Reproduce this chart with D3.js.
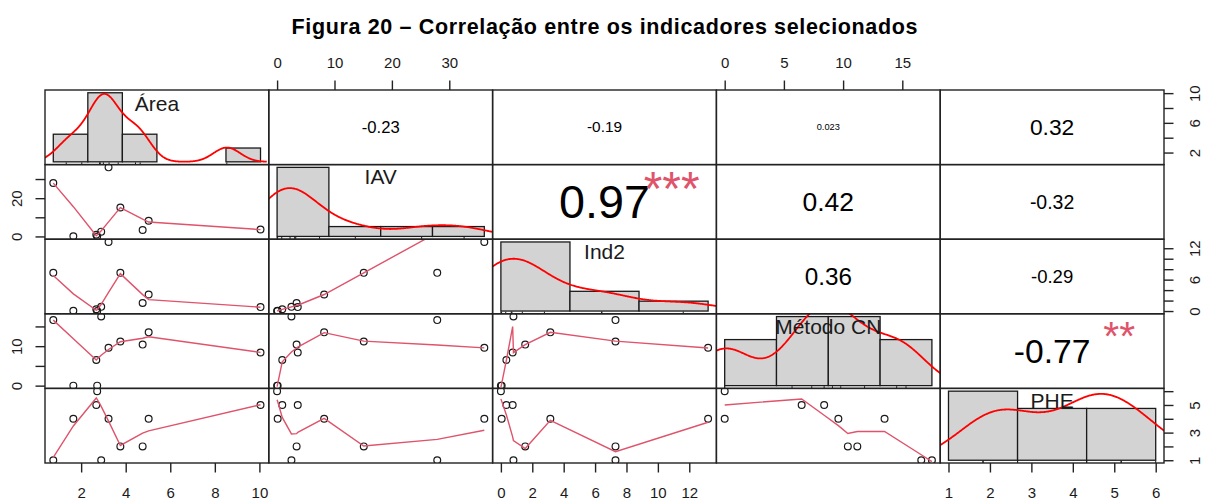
<!DOCTYPE html>
<html><head><meta charset="utf-8">
<script src="https://cdn.jsdelivr.net/npm/d3@7/dist/d3.min.js"></script>
<style>html,body{margin:0;padding:0;background:#fff;} svg{display:block;}</style>
</head><body>
<svg id="chart" width="1209" height="502"></svg>
<script>
// ---------------- data ----------------
const varNames = ["Área", "IAV", "Ind2", "Método CN", "PHE"];
const area     = [0.75, 1.65, 2.68, 2.72, 2.90, 3.23, 3.76, 4.76, 5.03, 10.05];
const iav      = [27.9, 0.1, 0.9, 0.0, 2.5, 36.1, 15.1, 3.4, 8.2, 3.6];
const ind2     = [7.3, 0.05, 0.35, 0.0, 0.8, 13.2, 7.3, 1.55, 3.15, 0.75];
const metodoCN = [16.6, 0.0, 6.5, 0.0, 17.5, 9.6, 11.2, 10.4, 13.5, 8.4];
const phe      = [1, 4, 5, 6, 1, 4, 2, 2, 4, 5];

const areaTicks = [2, 4, 6, 8, 10];
const iavTicks  = [0, 10, 20, 30];
const ind2Ticks = [0, 2, 4, 6, 8, 10, 12];
const cnTicks   = [0, 5, 10, 15];
const pheTicks  = [1, 2, 3, 4, 5, 6];

const areaSideLabels = [2, 6, 10];
const iavSideLabels  = [0, 20];
const ind2SideLabels = [0, 6, 12];
const cnSideLabels   = [0, 10];
const pheSideLabels  = [1, 3, 5];

const areaBreaks = [0, 2, 4, 6, 8, 10, 12];
const iavBreaks  = [0, 10, 20, 30, 40];
const ind2Breaks = [0, 5, 10, 15];
const cnBreaks   = [0, 5, 10, 15, 20];
const pheBreaks  = [0, 2, 4, 6];

const corrPairs  = [[0,1],[0,2],[0,3],[0,4],[1,2],[1,3],[1,4],[2,3],[2,4],[3,4]];
const corrValues = [-0.23, -0.19, 0.023, 0.32, 0.97, 0.42, -0.32, 0.36, -0.29, -0.77];
const corrLabels = ["-0.23", "-0.19", "0.023", "0.32", "0.97", "0.42", "-0.32", "0.36", "-0.29", "-0.77"];
const corrStars  = ["", "", "", "", "***", "", "", "", "", "**"];

const titleText = "Figura 20 – Correlação entre os indicadores selecionados";

// ---------------- setup ----------------
const vars = [area, iav, ind2, metodoCN, phe];
const ticksArr = [areaTicks, iavTicks, ind2Ticks, cnTicks, pheTicks];
const sideLabelsArr = [areaSideLabels, iavSideLabels, ind2SideLabels, cnSideLabels, pheSideLabels];
const breaksArr = [areaBreaks, iavBreaks, ind2Breaks, cnBreaks, pheBreaks];

const L = 45, T = 90, R = 1164, B = 463;
const nv = 5, pw = (R - L) / nv, ph = (B - T) / nv;
const FONT = '"Liberation Sans", Arial, sans-serif';
const INK = "#1a1a1a";
const SMOOTH = "#DF536B";

const svg = d3.select("#chart");
const ctx = document.createElement("canvas").getContext("2d");
function measure(txt, fs, weight) {
  ctx.font = `${weight || "normal"} ${fs}px "Liberation Sans"`;
  return ctx.measureText(txt);
}
function centeredText(g, txt, cx, cy, fs, fill) {
  const m = measure(txt, fs);
  const base = cy + (m.actualBoundingBoxAscent - m.actualBoundingBoxDescent) / 2;
  return g.append("text").attr("x", cx).attr("y", base)
    .attr("text-anchor", "middle").attr("font-family", FONT)
    .attr("font-size", fs).attr("fill", fill).text(txt);
}
function padScale(mn, mx, r0, r1) {
  const p = 0.04 * (mx - mn);
  return d3.scaleLinear().domain([mn - p, mx + p]).range([r0, r1]);
}
const xS = vars.map((v, j) => { const e = d3.extent(v); return padScale(e[0], e[1], L + j * pw, L + (j + 1) * pw); });
const yS = vars.map((v, i) => { const e = d3.extent(v); return padScale(e[0], e[1], T + (i + 1) * ph, T + i * ph); });

const defs = svg.append("defs");
for (let i = 0; i < nv; i++) for (let j = 0; j < nv; j++) {
  defs.append("clipPath").attr("id", `clip${i}${j}`).append("rect")
    .attr("x", L + j * pw).attr("y", T + i * ph).attr("width", pw).attr("height", ph);
}

// ---------------- stats helpers (same as R) ----------------
function q7(s, p) { const h = (s.length - 1) * p, lo = Math.floor(h); return s[lo] + (h - lo) * (s[Math.min(lo + 1, s.length - 1)] - s[lo]); }
function bwNrd0(x) {
  const s = x.slice().sort((a, b) => a - b);
  const sd = d3.deviation(x);
  let lo = Math.min(sd, (q7(s, .75) - q7(s, .25)) / 1.34);
  if (!(lo > 0)) lo = sd || Math.abs(s[0]) || 1;
  return 0.9 * lo * Math.pow(x.length, -0.2);
}
function kde(x) {
  const bw = bwNrd0(x), e = d3.extent(x), from = e[0] - 3 * bw, to = e[1] + 3 * bw, n = 512;
  return d3.range(n).map(k => {
    const t = from + (to - from) * k / (n - 1);
    let s = 0; for (const v of x) { const z = (t - v) / bw; s += Math.exp(-0.5 * z * z); }
    return [t, s / (x.length * bw * Math.sqrt(2 * Math.PI))];
  });
}
function lowest(x, y, n, xs, nleft, nright, w, userw, rw) {
  const range = x[n - 1] - x[0];
  const h = Math.max(xs - x[nleft], x[nright] - xs), h9 = .999 * h, h1 = .001 * h;
  let a = 0, j = nleft;
  while (j < n) {
    w[j] = 0;
    const r = Math.abs(x[j] - xs);
    if (r <= h9) {
      w[j] = r <= h1 ? 1 : Math.pow(1 - Math.pow(r / h, 3), 3);
      if (userw) w[j] *= rw[j];
      a += w[j];
    } else if (x[j] > xs) break;
    j++;
  }
  const nrt = j - 1;
  if (a <= 0) return { ok: false };
  for (j = nleft; j <= nrt; j++) w[j] /= a;
  if (h > 0) {
    a = 0; for (j = nleft; j <= nrt; j++) a += w[j] * x[j];
    let b = xs - a, c = 0;
    for (j = nleft; j <= nrt; j++) c += w[j] * (x[j] - a) * (x[j] - a);
    if (Math.sqrt(c) > .001 * range) { b /= c; for (j = nleft; j <= nrt; j++) w[j] *= (b * (x[j] - a) + 1); }
  }
  let ys = 0; for (j = nleft; j <= nrt; j++) ys += w[j] * y[j];
  return { ok: true, ys };
}
function lowess(xIn, yIn, f = 2 / 3, nsteps = 3) {
  const n = xIn.length;
  const idx = d3.range(n).sort((a, b) => (xIn[a] - xIn[b]) || (a - b));
  const x = idx.map(i => xIn[i]), y = idx.map(i => yIn[i]);
  const delta = 0.01 * (x[n - 1] - x[0]);
  const ys = new Array(n).fill(0), rw = new Array(n).fill(0), res = new Array(n).fill(0);
  const ns = Math.max(2, Math.min(n, Math.floor(f * n + 1e-7)));
  let iter = 1;
  while (iter <= nsteps + 1) {
    let nleft = 0, nright = ns - 1, last = -1, i = 0;
    for (;;) {
      if (nright < n - 1) {
        const d1 = x[i] - x[nleft], d2 = x[nright + 1] - x[i];
        if (d1 > d2) { nleft++; nright++; continue; }
      }
      const r = lowest(x, y, n, x[i], nleft, nright, res, iter > 1, rw);
      ys[i] = r.ok ? r.ys : y[i];
      if (last < i - 1) {
        const denom = x[i] - x[last];
        for (let j = last + 1; j < i; j++) { const al = (x[j] - x[last]) / denom; ys[j] = al * ys[i] + (1 - al) * ys[last]; }
      }
      last = i;
      const cut = x[last] + delta;
      for (i = last + 1; i < n; i++) {
        if (x[i] > cut) break;
        if (x[i] === x[last]) { ys[i] = ys[last]; last = i; }
      }
      i = Math.max(last + 1, i - 1);
      if (last >= n - 1) break;
    }
    for (let k = 0; k < n; k++) res[k] = y[k] - ys[k];
    let sc = 0; for (let k = 0; k < n; k++) sc += Math.abs(res[k]); sc /= n;
    if (iter > nsteps) break;
    for (let k = 0; k < n; k++) rw[k] = Math.abs(res[k]);
    const s = rw.slice().sort((a, b) => a - b);
    const m1 = Math.floor(n / 2);
    const cmad = (n % 2 === 0) ? 3 * (s[m1] + s[n - m1 - 1]) : 6 * s[m1];
    if (cmad < 1e-7 * sc) break;
    const c9 = .999 * cmad, c1 = .001 * cmad;
    for (let k = 0; k < n; k++) {
      const r = Math.abs(res[k]);
      rw[k] = r <= c1 ? 1 : (r <= c9 ? Math.pow(1 - Math.pow(r / cmad, 2), 2) : 0);
    }
    iter++;
  }
  return x.map((xv, k) => [xv, ys[k]]);
}

// ---------------- panels ----------------
const panels = svg.append("g");

function histPanel(i) {
  const v = vars[i], br = breaksArr[i], n = v.length;
  const bins = br.slice(0, -1).map((b, k) => {
    const c = v.filter(x => (k === 0 ? x >= b : x > b) && x <= br[k + 1]).length;
    return { x0: b, x1: br[k + 1], d: c / (n * (br[k + 1] - b)) };
  });
  const x0 = L + i * pw, y0 = T + i * ph;
  const hx = padScale(br[0], br[br.length - 1], x0, x0 + pw);
  const hy = padScale(0, d3.max(bins, b => b.d), y0 + ph, y0);
  const g = panels.append("g").attr("clip-path", `url(#clip${i}${i})`);
  g.selectAll("rect.bar").data(bins).join("rect").attr("class", "bar")
    .attr("x", b => hx(b.x0)).attr("width", b => hx(b.x1) - hx(b.x0))
    .attr("y", b => hy(b.d)).attr("height", b => hy(0) - hy(b.d))
    .attr("fill", "#D3D3D3").attr("stroke", INK).attr("stroke-width", 1.3);
  g.append("path").datum(kde(v))
    .attr("d", d3.line().x(d => hx(d[0])).y(d => hy(d[1])))
    .attr("fill", "none").attr("stroke", "#FF0000").attr("stroke-width", 1.8);
  g.selectAll("line.rug").data(v).join("line").attr("class", "rug")
    .attr("x1", d => hx(d)).attr("x2", d => hx(d))
    .attr("y1", y0 + ph).attr("y2", y0 + ph - 0.03 * ph)
    .attr("stroke", INK).attr("stroke-width", 1);
  centeredText(panels, varNames[i], x0 + pw / 2, y0 + ph * (1 - (0.5 + 1 / 3)), 21, INK);
}

function scatterPanel(i, j) {
  const xs = xS[j], ys = yS[i], vx = vars[j], vy = vars[i];
  const g = panels.append("g").attr("clip-path", `url(#clip${i}${j})`);
  g.selectAll("circle").data(d3.range(vx.length)).join("circle")
    .attr("cx", k => xs(vx[k])).attr("cy", k => ys(vy[k])).attr("r", 3.4)
    .attr("fill", "none").attr("stroke", INK).attr("stroke-width", 1.2);
  g.append("path").datum(lowess(vx, vy))
    .attr("d", d3.line().x(d => xs(d[0])).y(d => ys(d[1])))
    .attr("fill", "none").attr("stroke", SMOOTH).attr("stroke-width", 1.4);
}

function corrPanel(k) {
  const [i, j] = corrPairs[k];
  const x0 = L + j * pw, y0 = T + i * ph;
  const txt = corrLabels[k], r = corrValues[k];
  const w100 = measure(txt, 100).width;
  const base = 0.32 * pw;
  const fs = 100 * base * (Math.abs(r) + 0.3) / w100;
  centeredText(panels, txt, x0 + 0.5 * pw, y0 + 0.5 * ph, fs, "#000");
  if (corrStars[k]) {
    const fsS = 100 * base * 1.3 / w100;
    centeredText(panels, corrStars[k], x0 + 0.8 * pw, y0 + 0.2 * ph + 1, fsS, SMOOTH);
  }
}

for (let i = 0; i < nv; i++) histPanel(i);
for (let i = 0; i < nv; i++) for (let j = 0; j < i; j++) scatterPanel(i, j);
corrPairs.forEach((p, k) => corrPanel(k));

// panel boxes
for (let i = 0; i < nv; i++) for (let j = 0; j < nv; j++) {
  svg.append("rect").attr("x", L + j * pw).attr("y", T + i * ph).attr("width", pw).attr("height", ph)
    .attr("fill", "none").attr("stroke", "#222").attr("stroke-width", 1.4);
}

// ---------------- axes ----------------
function styleAxis(g) {
  g.select(".domain").remove();
  g.selectAll(".tick line").attr("stroke", "#222").attr("stroke-width", 1.4);
  g.selectAll(".tick text").attr("font-family", FONT).attr("font-size", 15).attr("fill", INK);
}
for (let j = 0; j < nv; j++) {
  if (j % 2 === 0) {
    const g = svg.append("g").attr("transform", `translate(0,${B})`)
      .call(d3.axisBottom(xS[j]).tickValues(ticksArr[j]).tickSize(9.5).tickFormat(d3.format("d")));
    styleAxis(g);
    g.selectAll(".tick text").attr("y", 30).attr("dy", "0.36em");
  } else {
    const g = svg.append("g").attr("transform", `translate(0,${T})`)
      .call(d3.axisTop(xS[j]).tickValues(ticksArr[j]).tickSize(9.5).tickFormat(d3.format("d")));
    styleAxis(g);
    g.selectAll(".tick text").attr("y", -27.7).attr("dy", "0.36em");
  }
}
for (let i = 0; i < nv; i++) {
  const labs = sideLabelsArr[i];
  const fmt = d => labs.includes(d) ? String(d) : "";
  if (i % 2 === 0) {
    const g = svg.append("g").attr("transform", `translate(${R},0)`)
      .call(d3.axisRight(yS[i]).tickValues(ticksArr[i]).tickSize(9.5).tickFormat(fmt));
    styleAxis(g);
    g.selectAll(".tick text").attr("x", null).attr("dy", "0.36em").attr("text-anchor", "middle")
      .attr("transform", "translate(31,0) rotate(-90)");
  } else {
    const g = svg.append("g").attr("transform", `translate(${L},0)`)
      .call(d3.axisLeft(yS[i]).tickValues(ticksArr[i]).tickSize(9.5).tickFormat(fmt));
    styleAxis(g);
    g.selectAll(".tick text").attr("x", null).attr("dy", "0.36em").attr("text-anchor", "middle")
      .attr("transform", "translate(-28,0) rotate(-90)");
  }
}

// ---------------- title ----------------
svg.append("text").attr("x", 604.5).attr("y", 33.5).attr("text-anchor", "middle")
  .attr("font-family", FONT).attr("font-weight", "bold").attr("font-size", 21.5)
  .attr("textLength", 626).attr("lengthAdjust", "spacing")
  .attr("fill", "#000").text(titleText);
</script>
</body></html>
